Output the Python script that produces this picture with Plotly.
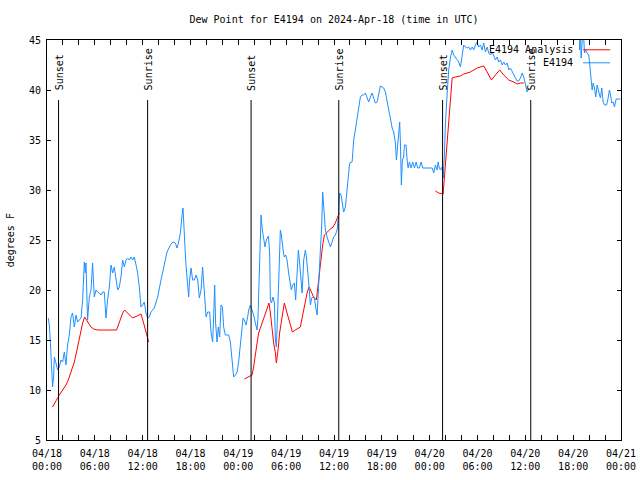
import datetime as dt
import plotly.graph_objects as go

# ---------------- data ----------------
BASE = "2024-04-18 00:00"

# station observations (hours since 04/18 00:00 UTC, dew point F); None = data gap
obs_hours = [
    0.16, 0.29, 0.41, 0.50, 0.70, 0.83, 0.92, 1.13, 1.33, 1.54, 1.76, 1.96, 2.17, 2.38, 2.58, 2.80,
    3.01, 3.21, 3.43, 3.64, 3.84, 4.05, 4.27, 4.47, 4.68, 4.81, 4.89, 5.09, 5.31, 5.52, 5.72, 5.93,
    6.15, 6.35, 6.56, 6.78, 6.98, 7.19, 7.40, 7.60, 7.82, 8.03, 8.23, 8.44, 8.66, 8.86, 9.07, 9.28,
    9.49, 9.70, 9.91, 10.11, 10.33, 10.54, 10.74, 10.95, 11.17, 11.37, 11.58, 11.79, 12.00, 12.21,
    12.42, 12.62, 12.84, 13.05, 13.46, 13.88, 14.30, 14.63, 14.84, 15.06, 15.47, 15.81, 16.10, 16.31,
    16.51, 16.73, 16.94, 17.06, 17.14, 17.23, 17.39, 17.57, 17.77, 17.89, 18.07, 18.27, 18.48, 18.70,
    18.90, 19.11, 19.32, 19.52, 19.74, 19.95, 20.15, 20.40, 20.58, 20.78, 20.90, 21.03, 21.15, 21.33,
    21.49, 21.66, 21.83, 22.00, 22.16, 22.37, 22.79, 23.00, 23.12, 23.29, 23.41, 23.63, 23.84, 24.04,
    24.25, 24.47, 24.59, 24.76, 24.97, 25.17, 25.30, 25.51, 25.72, 25.92, 26.14, 26.35, 26.47, 26.60,
    26.76, 26.85, 27.01, 27.17, 27.35, 27.51, 27.77, 27.93, 28.02, 28.15, 28.36, 28.52, 28.65, 28.77,
    28.93, 29.06, 29.27, 29.40, 29.61, 29.77, 29.94, 30.11, 30.31, 30.53, 30.65, 30.82, 31.03, 31.19,
    31.37, 31.53, 31.69, 31.87, 32.00, 32.20, 32.41, 32.54, 32.70, 32.87, 33.04, 33.20, 33.38, 33.54,
    33.70, 33.88, 34.00, 34.13, 34.29, 34.45, 34.58, 34.71, 34.92, 35.13, 35.33, 35.55, 35.76, 35.96,
    36.17, 36.39, 36.59, 36.65, 36.71, 36.89, 37.05, 37.21, 37.43, 37.64, 37.84, 37.96, 38.27, 38.47,
    38.68, 38.90, 39.10, 39.31, 39.52, 39.72, 39.94, 40.15, 40.35, 40.57, 40.78, 40.98, 41.19, 41.41,
    41.61, 41.82, 42.03, 42.23, 42.45, 42.66, 42.86, 43.07, 43.29, 43.49, 43.70, 43.83, 43.99, 44.12,
    44.24, 44.33, 44.45, 44.58, 44.74, 44.83, 45.04, 45.17, 45.30, 45.46, 45.67, 45.87, 46.09, 46.30,
    46.50, 46.71, 46.93, 47.13, 48.31, 48.51, 48.72, 48.93, 49.06, 49.18, 49.35, 49.56, 49.69, 49.85,
    49.97, 50.19, 50.39, 50.60, 50.82, 51.02, 51.23, 51.44, 51.64, 51.86, 52.07, 52.27, 52.48, 52.70,
    52.90, 53.11, 53.33, 53.53, 53.74, 53.95, 54.15, 54.37, 54.58, 54.78, 54.99, 55.21, 55.41, 55.62,
    55.83, 56.04, 56.25, 56.46, 56.66, 56.88, 57.09, 57.29, 57.50, 57.72, 57.92, 58.13, 58.35, 58.55,
    58.76, 58.97, 59.17, 59.39, 59.60, 59.80, 60.01, 60.23, 60.43,
    None,
    66.79, 66.88, 67.00, 67.13, 67.25, 67.42, 67.54, 67.75, 67.96, 68.08, 68.26, 68.38, 68.51, 68.67,
    68.83, 69.01, 69.21, 69.42, 69.59, 69.76, 69.93, 70.18, 70.34, 70.55, 70.68, 70.84, 71.02, 71.18,
    71.39, 71.72, 71.93,
]
obs_vals = [
    17.2, 16.5, 15.0, 13.2, 10.3, 11.3, 13.3, 12.7, 12.0, 12.3, 13.0, 12.8, 13.8, 12.5, 14.5, 15.5,
    17.3, 17.7, 16.3, 17.5, 16.8, 17.0, 17.2, 19.0, 22.8, 21.7, 22.7, 17.0, 19.3, 20.0, 22.7, 19.3,
    20.0, 19.8, 19.7, 19.5, 19.8, 19.8, 17.2, 19.0, 20.3, 22.5, 21.7, 22.3, 21.0, 20.0, 20.3, 21.3,
    23.0, 22.3, 23.0, 23.2, 23.0, 23.3, 23.0, 23.3, 22.5, 21.7, 20.3, 18.3, 18.5, 18.8,
    17.7, 17.2, 17.3, 17.8, 18.2, 19.3, 21.0, 22.3, 23.3, 23.8, 24.5, 24.8, 24.7, 24.2,
    24.8, 25.7, 27.5, 28.2, 27.0, 25.0, 23.0, 21.2, 19.3, 21.0, 22.2, 21.0, 21.0, 21.5,
    21.0, 19.2, 20.0, 22.3, 19.3, 17.3, 17.8, 17.8, 15.7, 14.8, 17.2, 20.5, 16.7, 14.8,
    16.3, 15.3, 18.5, 18.3, 16.3, 15.5, 15.5, 14.8, 13.8, 12.2, 11.3, 11.5, 11.8, 12.8,
    14.3, 16.3, 17.2, 17.0, 16.5, 17.3, 18.0, 18.5, 18.0, 17.5, 16.7, 16.0, 17.3, 21.7,
    26.3, 27.5, 26.0, 25.0, 24.3, 25.0, 25.4, 23.7, 19.0, 18.7, 19.3, 18.7, 15.0, 14.3,
    17.0, 20.7, 26.0, 25.5, 24.0, 23.3, 23.5, 23.0, 21.7, 20.7, 20.0, 20.5, 20.7, 19.0,
    21.3, 24.0, 22.7, 20.7, 19.7, 23.0, 24.0, 23.3, 21.3, 20.3, 18.5, 19.2, 19.3, 19.2,
    18.3, 17.5, 19.3, 22.3, 24.0, 26.3, 29.8, 28.3, 26.0, 25.3, 24.8, 24.3, 24.8, 25.3,
    25.5, 26.0, 27.7, 29.3, 29.7, 29.5, 28.5, 27.8, 28.3, 30.0, 31.7, 32.7, 32.8, 35.0,
    36.0, 37.0, 38.3, 39.3, 39.5, 39.5, 39.7, 39.3, 38.8, 39.3, 39.7, 39.2, 38.7, 38.8,
    39.7, 40.4, 40.3, 40.2, 39.8, 38.7, 38.0, 37.2, 36.2, 35.8, 34.7, 33.0, 34.7, 35.8,
    36.8, 34.7, 30.5, 33.0, 33.3, 34.5, 34.5, 33.0, 32.2, 32.8, 32.2, 32.8, 32.2, 32.8,
    32.2, 32.2, 32.8, 32.2, 32.2, 31.7, 32.5, 32.0, 32.8, 32.3, 32.0, 32.3, 31.2, 33.5,
    36.5, 39.6, 42.0, 43.2, 44.0, 43.5, 43.3, 43.0, 42.8, 42.3, 43.5, 44.5, 44.3, 44.2,
    44.3, 44.0, 44.3, 44.0, 44.5, 44.8, 44.3, 44.5, 44.0, 44.7, 43.8, 44.3, 43.7, 43.5,
    43.8, 43.3, 43.0, 43.3, 42.8, 43.0, 42.5, 42.8, 42.5, 42.7, 42.0, 42.2, 41.8, 41.5,
    41.2, 40.9, 40.9, 41.2, 41.7, 41.3, 40.5, 39.8, 40.2,
    None,
    44.0, 46.5, 43.2, 46.0, 46.5, 43.7, 44.0, 43.7, 43.5, 42.5, 41.0, 40.0, 40.7, 40.2,
    39.3, 40.5, 39.8, 39.2, 40.2, 38.8, 38.5, 38.5, 39.0, 40.0, 39.5, 38.7, 38.8, 38.3,
    39.1, 39.1, 39.1,
]

# analysis (hours since 04/18 00:00 UTC, dew point F); None = gap
ana_hours = [
    0.70, 1.13, 1.54, 1.96, 2.38, 2.67, 3.01, 3.43, 3.84, 4.27, 4.47, 4.72, 5.09, 5.52, 5.85, 6.35,
    8.73, 9.07, 9.49, 9.74, 10.33, 10.74, 11.29, 11.79, 12.12, 12.42, 12.75,
    None,
    24.76, 25.30, 25.72, 25.92, 26.14, 26.35, 26.55, 26.98, 27.39, 27.85, 28.02, 28.23, 28.43, 28.65,
    28.77, 28.98, 29.18, 29.49, 29.77, 30.11, 30.44, 30.78, 31.15, 31.57, 31.78, 32.00, 32.20, 32.41,
    32.62, 32.87, 33.12, 33.45, 33.79, 33.95, 34.08, 34.20, 34.38, 34.58, 34.79, 35.13, 35.55, 35.88,
    36.17, 36.46, 36.67,
    None,
    48.72, 49.13, 49.69, 49.85, 49.97, 50.19, 50.39, 50.60, 50.82, 51.23, 51.86, 52.27, 53.11, 53.95,
    54.78, 55.21, 55.75, 56.25, 56.79, 57.29, 57.92, 58.55, 58.97, 59.39, 59.80,
]
ana_vals = [
    8.3, 9.0, 9.5, 10.0, 10.5, 11.0, 11.8, 12.8, 14.3, 16.0, 16.7, 17.3, 16.8, 16.3, 16.1, 16.0,
    16.0, 16.8, 17.7, 18.0, 17.5, 17.2, 17.4, 17.6, 16.7, 15.7, 14.8,
    None,
    11.1, 11.3, 11.5, 12.3, 13.7, 14.7, 15.7, 16.7, 17.5, 18.7, 17.7, 16.0, 14.7, 13.7,
    12.7, 14.0, 15.7, 17.3, 18.7, 17.7, 16.8, 15.8, 16.0, 16.2, 16.3, 17.2, 18.0, 18.7,
    19.7, 20.3, 19.8, 19.3, 19.0, 20.2, 21.0, 22.0, 23.3, 24.5, 25.5, 25.8, 26.1, 26.3,
    26.7, 27.3, 27.7,
    None,
    29.9, 29.7, 29.6, 31.3, 32.2, 34.5, 37.2, 39.2, 41.2, 41.3, 41.4, 41.6, 41.8, 42.2,
    42.4, 41.8, 41.0, 41.5, 42.0, 41.5, 41.0, 40.8, 40.6, 40.7, 40.7,
]

sun_events = ["Sunset", "Sunrise", "Sunset", "Sunrise", "Sunset", "Sunrise"]
sun_hours = [1.45, 12.62, 25.60, 36.60, 49.62, 60.68]

series_names = ["E4194 Analysis", "E4194"]
series_colors = ["#ff0000", "#1e90ff"]
title_text = "Dew Point for E4194 on 2024-Apr-18 (time in UTC)"
y_title = "degrees F"
y_range = [5, 45]
x_span_hours = 72

# ---------------- build ----------------
base = dt.datetime.strptime(BASE, "%Y-%m-%d %H:%M")


def to_time(hs):
    return [None if h is None else base + dt.timedelta(hours=h) for h in hs]


FONT = "DejaVu Sans Mono"
fig = go.Figure()
fig.add_trace(go.Scatter(x=to_time(ana_hours), y=ana_vals, mode="lines", name=series_names[0],
                         line=dict(color=series_colors[0], width=1), connectgaps=False))
fig.add_trace(go.Scatter(x=to_time(obs_hours), y=obs_vals, mode="lines", name=series_names[1],
                         line=dict(color=series_colors[1], width=1), connectgaps=False))

for name, h in zip(sun_events, sun_hours):
    t = base + dt.timedelta(hours=h)
    fig.add_shape(type="line", xref="x", yref="paper", x0=t, x1=t, y0=0, y1=0.85,
                  line=dict(color="black", width=1))
    fig.add_annotation(x=t, y=0.868, xref="x", yref="paper", text=name, textangle=-90,
                       showarrow=False, xanchor="center", yanchor="bottom", xshift=1,
                       font=dict(family=FONT, size=10, color="black"))

# gnuplot-style key: text right-aligned, sample line on the right
for i, (nm, col) in enumerate(zip(series_names, series_colors)):
    yy = 0.9755 - i * 0.0325
    fig.add_annotation(x=0.920, y=yy, xref="paper", yref="paper", text=nm, showarrow=False,
                       xanchor="right", yanchor="middle", font=dict(family=FONT, size=10, color="black"))
    fig.add_shape(type="line", xref="paper", yref="paper", x0=0.934, x1=0.981, y0=yy, y1=yy,
                  line=dict(color=col, width=1))

# y-axis title
fig.add_annotation(x=-0.064, y=0.5, xref="paper", yref="paper", text=y_title, textangle=-90,
                   showarrow=False, xanchor="center", yanchor="middle",
                   font=dict(family=FONT, size=10, color="black"))

fig.update_layout(
    width=640, height=480,
    margin=dict(l=47, r=19, t=40, b=40, autoexpand=False),
    paper_bgcolor="white", plot_bgcolor="white",
    showlegend=False,
    font=dict(family=FONT, size=10, color="black"),
    title=dict(text=title_text, x=0.5, xref="paper", xanchor="center",
               y=0.96, yref="container", yanchor="middle",
               font=dict(family=FONT, size=10, color="black")),
)
fig.update_xaxes(
    type="date", automargin=False,
    range=[base, base + dt.timedelta(hours=x_span_hours)],
    dtick=6 * 3600 * 1000, tick0=base, tickformat="%m/%d<br>%H:%M",
    ticks="inside", ticklen=5, tickcolor="black", ticklabelstandoff=4,
    minor=dict(ticks="inside", ticklen=5, dtick=2 * 3600 * 1000, tick0=base, tickcolor="black", showgrid=False),
    showline=True, linecolor="black", linewidth=1, mirror="allticks",
    showgrid=False, zeroline=False,
    tickfont=dict(family=FONT, size=10),
)
fig.update_yaxes(
    range=y_range, dtick=5, tick0=5, automargin=False,
    ticks="inside", ticklen=4, tickcolor="black", ticklabelstandoff=3,
    showline=True, linecolor="black", linewidth=1, mirror="allticks",
    showgrid=False, zeroline=False,
    tickfont=dict(family=FONT, size=10),
)

fig.write_html(
    "out.html",
    config={"displayModeBar": False},
    post_script="document.body.style.margin='0';document.body.style.padding='0';",
)
